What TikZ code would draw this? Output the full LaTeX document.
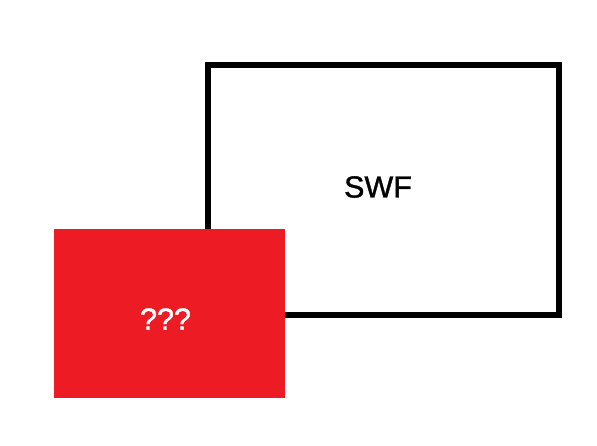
\documentclass[tikz,border=0pt]{standalone}
\usepackage{fontspec}
\setmainfont{Liberation Sans}
\newfontfamily\heavyfont[FakeBold=1.2]{Liberation Sans}
\definecolor{paintred}{HTML}{ED1C24}
\begin{document}
\begin{tikzpicture}[x=1pt,y=-1pt,
  swfbox/.style={draw=black,line width=5.5pt,fill=white,minimum width=351pt,minimum height=250pt,inner sep=0pt,outer sep=0pt},
  redbox/.style={fill=paintred,draw=none,minimum width=231pt,minimum height=169pt,inner sep=0pt,outer sep=0pt},
  lbl/.style={font=\heavyfont\fontsize{30.5}{34}\selectfont,inner sep=0pt}]
\useasboundingbox (0,0) rectangle (597,446);
\node[swfbox] (swf) at (383.5,190.25) {};
\node[lbl,text=black] (swftext) at (378,187) {SWF};
\node[redbox] (red) at (169.5,313.5) {};
\node[lbl,text=white] (qtext) at (165.5,319) {???};
\end{tikzpicture}
\end{document}
